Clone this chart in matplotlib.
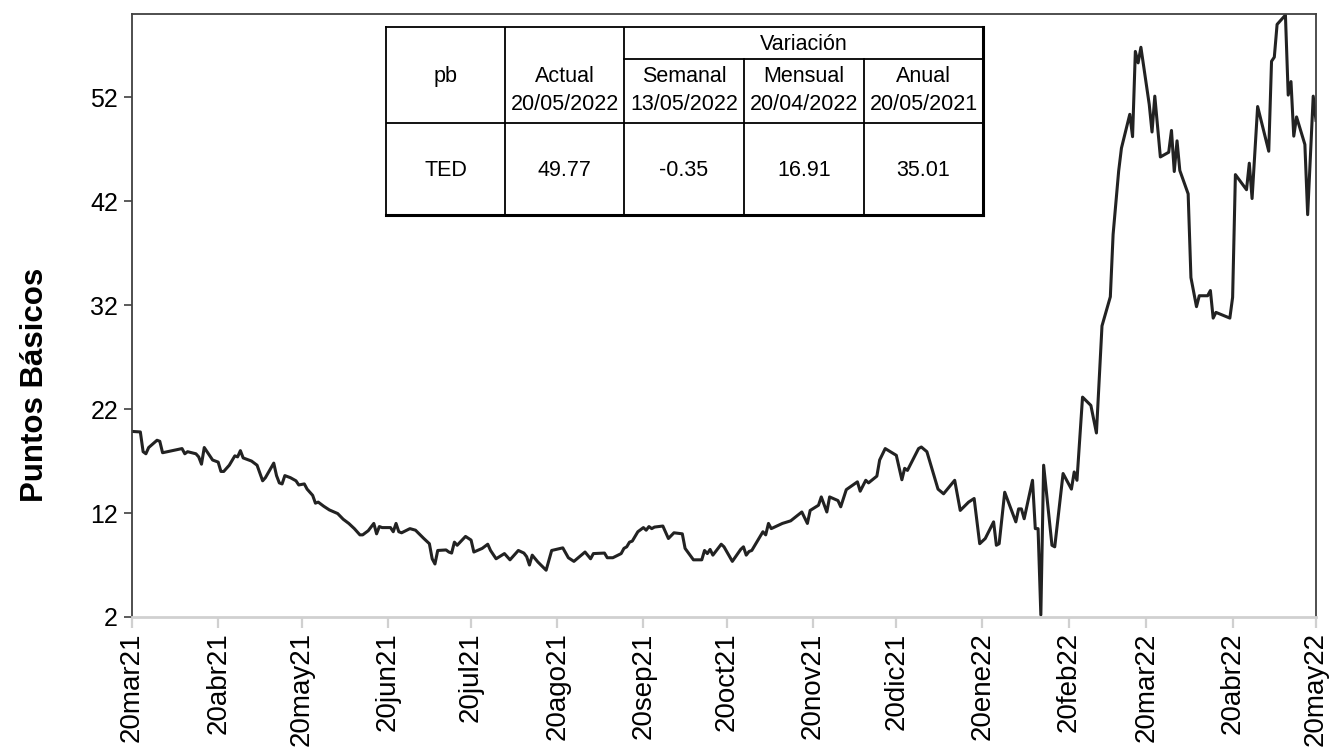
import matplotlib
matplotlib.use("Agg")
import matplotlib.pyplot as plt
import pandas as pd

# ---------------- data ----------------
dates = [
    "2021-03-20", "2021-03-23", "2021-03-24", "2021-03-25", "2021-03-26", "2021-03-29", "2021-03-30", "2021-03-31",
    "2021-04-07", "2021-04-08", "2021-04-09", "2021-04-12", "2021-04-13", "2021-04-14", "2021-04-15", "2021-04-17",
    "2021-04-18", "2021-04-20", "2021-04-21", "2021-04-22", "2021-04-24", "2021-04-26", "2021-04-27", "2021-04-28",
    "2021-04-29", "2021-04-30", "2021-05-02", "2021-05-04", "2021-05-06", "2021-05-07", "2021-05-10", "2021-05-11",
    "2021-05-12", "2021-05-13", "2021-05-14", "2021-05-16", "2021-05-18", "2021-05-19", "2021-05-21", "2021-05-22",
    "2021-05-24", "2021-05-25", "2021-05-26", "2021-05-28", "2021-05-30", "2021-06-02", "2021-06-04", "2021-06-06",
    "2021-06-08", "2021-06-10", "2021-06-11", "2021-06-13", "2021-06-15", "2021-06-16", "2021-06-17", "2021-06-18",
    "2021-06-21", "2021-06-22", "2021-06-23", "2021-06-24", "2021-06-25", "2021-06-28", "2021-06-30", "2021-07-03",
    "2021-07-05", "2021-07-06", "2021-07-07", "2021-07-08", "2021-07-11", "2021-07-12", "2021-07-13", "2021-07-14",
    "2021-07-15", "2021-07-18", "2021-07-20", "2021-07-21", "2021-07-24", "2021-07-26", "2021-07-27", "2021-07-29",
    "2021-08-01", "2021-08-03", "2021-08-06", "2021-08-08", "2021-08-09", "2021-08-10", "2021-08-11", "2021-08-13",
    "2021-08-16", "2021-08-18", "2021-08-22", "2021-08-24", "2021-08-26", "2021-08-30", "2021-09-01", "2021-09-02",
    "2021-09-06", "2021-09-07", "2021-09-09", "2021-09-12", "2021-09-13", "2021-09-14", "2021-09-15", "2021-09-16",
    "2021-09-18", "2021-09-20", "2021-09-21", "2021-09-22", "2021-09-23", "2021-09-24", "2021-09-27", "2021-09-29",
    "2021-10-01", "2021-10-04", "2021-10-05", "2021-10-08", "2021-10-11", "2021-10-12", "2021-10-13", "2021-10-14",
    "2021-10-15", "2021-10-18", "2021-10-19", "2021-10-22", "2021-10-25", "2021-10-26", "2021-10-27", "2021-10-28",
    "2021-10-29", "2021-11-02", "2021-11-03", "2021-11-04", "2021-11-05", "2021-11-09", "2021-11-12", "2021-11-16",
    "2021-11-18", "2021-11-19", "2021-11-22", "2021-11-23", "2021-11-25", "2021-11-26", "2021-11-29", "2021-11-30",
    "2021-12-02", "2021-12-06", "2021-12-07", "2021-12-09", "2021-12-10", "2021-12-13", "2021-12-14", "2021-12-16",
    "2021-12-20", "2021-12-22", "2021-12-23", "2021-12-24", "2021-12-28", "2021-12-29", "2021-12-31", "2022-01-04",
    "2022-01-06", "2022-01-10", "2022-01-12", "2022-01-15", "2022-01-17", "2022-01-19", "2022-01-21", "2022-01-24",
    "2022-01-25", "2022-01-26", "2022-01-28", "2022-02-01", "2022-02-02", "2022-02-03", "2022-02-04", "2022-02-07",
    "2022-02-08", "2022-02-09", "2022-02-10", "2022-02-11", "2022-02-14", "2022-02-15", "2022-02-18", "2022-02-21",
    "2022-02-22", "2022-02-23", "2022-02-25", "2022-02-28", "2022-03-02", "2022-03-04", "2022-03-07", "2022-03-08",
    "2022-03-10", "2022-03-11", "2022-03-14", "2022-03-15", "2022-03-16", "2022-03-17", "2022-03-18", "2022-03-21",
    "2022-03-22", "2022-03-23", "2022-03-25", "2022-03-28", "2022-03-29", "2022-03-30", "2022-03-31", "2022-04-01",
    "2022-04-04", "2022-04-05", "2022-04-07", "2022-04-08", "2022-04-11", "2022-04-12", "2022-04-13", "2022-04-14",
    "2022-04-19", "2022-04-20", "2022-04-21", "2022-04-25", "2022-04-26", "2022-04-27", "2022-04-29", "2022-05-03",
    "2022-05-04", "2022-05-05", "2022-05-06", "2022-05-09", "2022-05-10", "2022-05-11", "2022-05-12", "2022-05-13",
    "2022-05-16", "2022-05-17", "2022-05-19", "2022-05-20",
]
ted = [
    19.85, 19.8, 17.9, 17.7, 18.3, 19.0, 18.9, 17.8,
    18.2, 17.7, 17.9, 17.7, 17.4, 16.7, 18.3, 17.5,
    17.1, 16.9, 16.0, 16.0, 16.6, 17.5, 17.4, 18.0,
    17.3, 17.2, 17.0, 16.6, 15.1, 15.4, 16.8, 15.6,
    14.9, 14.8, 15.6, 15.4, 15.1, 14.7, 14.8, 14.3,
    13.7, 12.95, 13.05, 12.65, 12.3, 11.95, 11.4, 11.0,
    10.5, 9.9, 9.9, 10.3, 11.0, 10.0, 10.7, 10.6,
    10.6, 10.2, 11.0, 10.2, 10.1, 10.5, 10.35, 9.55,
    9.05, 7.6, 7.1, 8.4, 8.45, 8.25, 8.15, 9.2,
    8.9, 9.75, 9.4, 8.25, 8.6, 9.0, 8.4, 7.6,
    8.1, 7.5, 8.4, 8.15, 7.8, 7.0, 7.95, 7.3,
    6.5, 8.4, 8.65, 7.7, 7.35, 8.25, 7.6, 8.1,
    8.15, 7.7, 7.7, 8.1, 8.6, 8.75, 9.2, 9.3,
    10.2, 10.6, 10.35, 10.7, 10.5, 10.65, 10.75, 9.55,
    10.1, 10.0, 8.6, 7.5, 7.5, 8.4, 8.1, 8.5,
    7.95, 9.0, 8.75, 7.35, 8.5, 8.75, 7.95, 8.3,
    8.4, 10.2, 9.9, 11.0, 10.5, 11.0, 11.25, 12.1,
    11.0, 12.25, 12.75, 13.55, 12.1, 13.55, 13.2, 12.6,
    14.25, 15.0, 14.1, 15.15, 14.9, 15.55, 17.1, 18.2,
    17.55, 15.2, 16.3, 16.1, 18.2, 18.35, 17.9, 14.3,
    13.85, 15.15, 12.25, 13.05, 13.4, 9.05, 9.55, 11.15,
    8.9, 9.05, 14.0, 11.15, 12.4, 12.4, 11.45, 15.15,
    10.5, 10.5, 2.2, 16.6, 8.9, 8.75, 15.8, 14.3,
    15.95, 15.15, 23.15, 22.35, 19.7, 30.0, 32.8, 38.8,
    44.9, 47.1, 50.35, 48.2, 56.4, 55.3, 56.8, 51.3,
    48.65, 52.1, 46.25, 46.7, 48.8, 44.85, 47.8, 44.95,
    42.7, 34.65, 31.85, 32.9, 32.9, 33.4, 30.75, 31.3,
    30.75, 32.75, 44.55, 43.1, 45.65, 42.25, 51.1, 46.8,
    55.45, 55.85, 59.0, 59.9, 52.2, 53.5, 48.25, 50.1,
    47.45, 40.7, 52.1, 49.77,
]
tick_dates = ["2021-03-20", "2021-04-20", "2021-05-20", "2021-06-20", "2021-07-20", "2021-08-20",
              "2021-09-20", "2021-10-20", "2021-11-20", "2021-12-20", "2022-01-20", "2022-02-20",
              "2022-03-20", "2022-04-20", "2022-05-20"]
tick_labels = ["20mar21", "20abr21", "20may21", "20jun21", "20jul21", "20ago21", "20sep21",
               "20oct21", "20nov21", "20dic21", "20ene22", "20feb22", "20mar22", "20abr22", "20may22"]
y_ticks = [2, 12, 22, 32, 42, 52]
y_label = "Puntos Básicos"

table_group = "Variación"
col_names = ["pb", "Actual", "Semanal", "Mensual", "Anual"]
col_dates = ["", "20/05/2022", "13/05/2022", "20/04/2022", "20/05/2021"]
row_label = "TED"
row_values = ["49.77", "-0.35", "16.91", "35.01"]

# ---------------- figure ----------------
plt.rcParams['font.family'] = ['Liberation Sans', 'DejaVu Sans']
W, H = 1334, 756
fig = plt.figure(figsize=(W / 100, H / 100), dpi=100)
ax = fig.add_axes([132 / W, 1 - 617 / H, (1316 - 132) / W, (617 - 14) / H])

x = pd.to_datetime(dates)
ax.plot(x, ted, color='#222222', lw=2.2)

ax.set_xlim(pd.Timestamp(tick_dates[0]), pd.Timestamp(tick_dates[-1]))
ax.set_ylim(2, 60)
ax.set_yticks(y_ticks)
ax.set_yticklabels([str(v) for v in y_ticks], fontsize=18)
ax.set_xticks(pd.to_datetime(tick_dates))
ax.set_xticklabels(tick_labels, rotation=90, fontsize=20)

ax.tick_params(axis='y', length=6, width=1.2, color='#404040', pad=4)
ax.tick_params(axis='x', length=8, width=1.6, color='#d0d0d0', pad=3)

for side in ['left', 'top', 'right']:
    ax.spines[side].set_color('#404040')
    ax.spines[side].set_linewidth(1.3)
ax.spines['bottom'].set_color('#d0d0d0')
ax.spines['bottom'].set_linewidth(2)

fig.text(35 / W, 1 - 385 / H, y_label, rotation=90, fontsize=22.5, fontweight='bold',
         ha='center', va='center')

# ---------------- table ----------------
tx0, tx1, ty0, ty1 = 386, 983, 27, 215
tab = fig.add_axes([tx0 / W, 1 - ty1 / H, (tx1 - tx0) / W, (ty1 - ty0) / H])
tab.set_xlim(0, tx1 - tx0)
tab.set_ylim(ty1 - ty0, 0)
tab.axis('off')
tab.add_patch(plt.Rectangle((0, 0), tx1 - tx0, ty1 - ty0, facecolor='white', edgecolor='none'))

cols = [0, 119, 238, 358, 478, 597]
r_var, r_head, r_end = 32, 96, 188
lc = 'black'
lw = 1.3
# outer
tab.plot([0, cols[-1]], [0, 0], color=lc, lw=lw, clip_on=False)
tab.plot([0, 0], [0, r_end], color=lc, lw=lw, clip_on=False)
tab.plot([cols[-1], cols[-1]], [0, r_end], color=lc, lw=2.2, clip_on=False)
tab.plot([0, cols[-1]], [r_end, r_end], color=lc, lw=2.2, clip_on=False)
# inner
tab.plot([0, cols[-1]], [r_head, r_head], color=lc, lw=lw)
tab.plot([cols[2], cols[-1]], [r_var, r_var], color=lc, lw=lw)
for c in cols[1:3]:
    tab.plot([c, c], [0, r_end], color=lc, lw=lw)
for c in cols[3:5]:
    tab.plot([c, c], [r_var, r_end], color=lc, lw=lw)

fs = 15.5
centers = [(cols[i] + cols[i + 1]) / 2 for i in range(5)]
tab.text((cols[2] + cols[-1]) / 2, 17, table_group, ha='center', va='center', fontsize=fs)
for i in range(5):
    tab.text(centers[i], 49, col_names[i], ha='center', va='center', fontsize=fs)
    if col_dates[i]:
        tab.text(centers[i], 77, col_dates[i], ha='center', va='center', fontsize=fs)
tab.text(centers[0], 143, row_label, ha='center', va='center', fontsize=fs)
for i, v in enumerate(row_values):
    tab.text(centers[i + 1], 143, v, ha='center', va='center', fontsize=fs)

fig.savefig("out.png", dpi=100)
